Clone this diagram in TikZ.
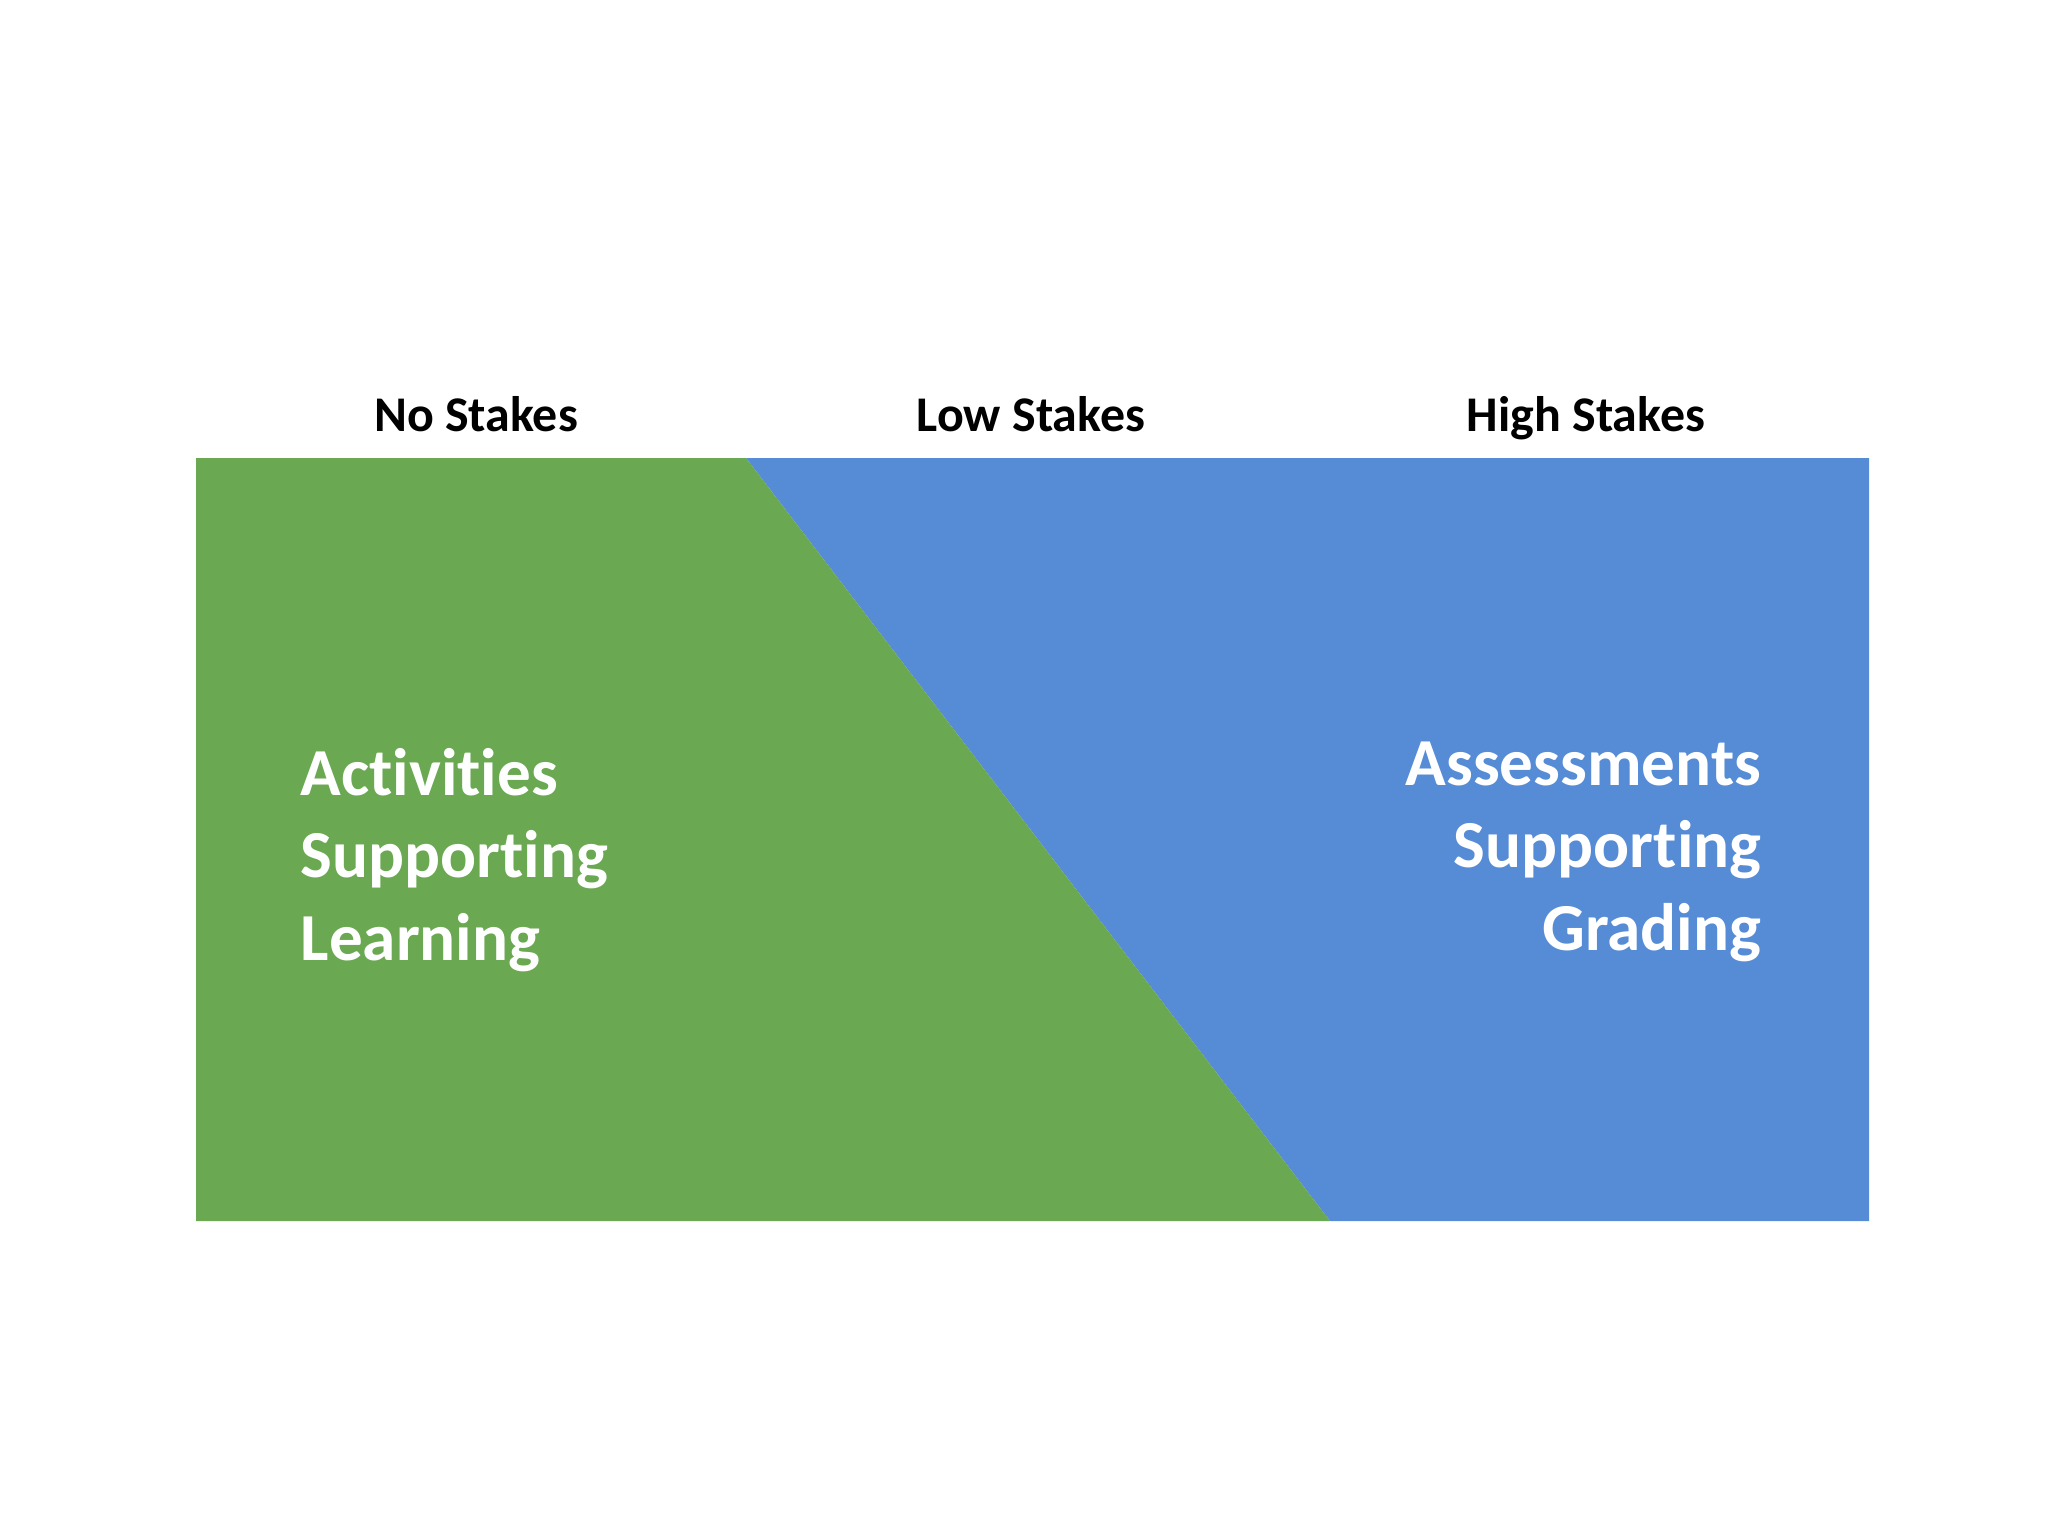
\documentclass[tikz,border=0pt]{standalone}
\usepackage{fontspec}
\setmainfont{Carlito}[Ligatures={NoCommon}]
\usetikzlibrary{positioning}

\definecolor{stakesgreen}{RGB}{106,168,81}
\definecolor{stakesblue}{RGB}{86,140,214}

\tikzset{
    heading/.style={anchor=base, inner sep=0pt, font=\bfseries\fontsize{14.2}{17}\selectfont},
    bigtext/.style={inner sep=0pt, text=white, font=\bfseries\fontsize{19.1}{23.4}\selectfont}
}

\begin{document}
\begin{tikzpicture}[x=0.01cm, y=-0.01cm]
    \useasboundingbox (0, 0) rectangle (2048, 1536);

    % the two areas
    \coordinate (tl) at (196, 458);
    \coordinate (tm) at (746, 458);
    \coordinate (tr) at (1869, 458);
    \coordinate (bl) at (196, 1221);
    \coordinate (bm) at (1330, 1221);
    \coordinate (br) at (1869, 1221);
    \fill[stakesblue] (tm) -- (tr) -- (br) -- (bm) -- cycle;
    \fill[stakesgreen] (tl) -- (tm) -- (bm) -- (bl) -- cycle;

    % headings
    \node[heading] (ns) at (476, 431) {No Stakes};
    \node[heading] (ls) at (1031, 431) {Low Stakes};
    \node[heading] (hs) at (1586, 431) {High Stakes};

    % labels in the areas (base = last line)
    \node[bigtext, anchor=base west, align=left] (act) at (300, 960)
        {Activities\\Supporting\\Learning};
    \node[bigtext, anchor=base east, align=right] (ass) at (1762, 950)
        {Assessments\\Supporting\\Grading};
\end{tikzpicture}
\end{document}
